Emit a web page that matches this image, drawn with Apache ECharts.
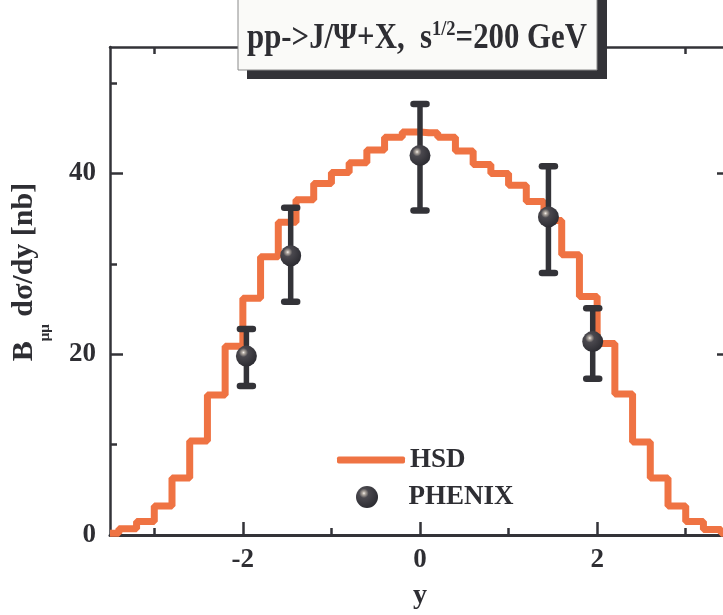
<!DOCTYPE html>
<html>
<head>
<meta charset="utf-8">
<script src="https://cdn.jsdelivr.net/npm/echarts@6/dist/echarts.min.js"></script>
<style>
html,body{margin:0;padding:0;background:#fff;}
#chart{width:723px;height:615px;}
</style>
</head>
<body>
<div id="chart"></div>
<script>
// HSD histogram: bin centres (y) and dσ/dy values
const binCenters = [-3.5,-3.3,-3.1,-2.9,-2.7,-2.5,-2.3,-2.1,-1.9,-1.7,-1.5,-1.3,-1.1,-0.9,-0.7,-0.5,-0.3,-0.1,
                    0.1,0.3,0.5,0.7,0.9,1.1,1.3,1.5,1.7,1.9,2.1,2.3,2.5,2.7,2.9,3.1,3.3,3.5];
const hsdValues  = [0.2,0.7,1.5,3.2,6.3,10.4,15.5,20.9,26.2,30.8,34.6,37.1,38.9,40.1,41.2,42.6,44.0,44.6,
                    44.5,44.0,42.5,41.0,40.0,38.7,36.9,34.8,31.0,26.4,21.2,15.6,10.3,6.3,3.2,1.5,0.6,0.2];
// PHENIX data
const phenixX    = [-1.96,-1.46,0.0,1.45,1.95];
const phenixY    = [19.8,30.9,42.0,35.2,21.4];
const phenixLow  = [16.5,25.8,35.9,29.0,17.3];
const phenixHigh = [22.8,36.2,47.7,40.8,25.1];
// ticks
const xMajor = [-2,0,2];
const xMinor = [-3,-1,1,3];
const yMajor = [0,20,40];
const yMinor = [10,30,50];

const FONT = 'Liberation Serif';
const DARK = '#333338';
const TXT = '#2e2e33';
const ORANGE = '#EF7343';

function xAx(position, ticks, len, withLine, withLabel) {
  return {
    type:'value', position: position, min:-3.5, max:3.5,
    axisLine:{show:withLine, onZero:false, lineStyle:{color:DARK, width: position==='bottom'?3:2.5}},
    axisTick:{show:true, inside:true, length:len, customValues:ticks, lineStyle:{color:DARK, width:2.5}},
    axisLabel:{show:withLabel, customValues:ticks, color:TXT, fontFamily:FONT, fontWeight:'bold', fontSize:27, margin:12},
    splitLine:{show:false}
  };
}
function yAx(position, ticks, len, withLine, withLabel) {
  return {
    type:'value', position: position, min:0, max:54,
    axisLine:{show:withLine, onZero:false, lineStyle:{color:DARK, width:2.5}},
    axisTick:{show:true, inside:true, length:len, customValues:ticks, lineStyle:{color:DARK, width:2.5}},
    axisLabel:{show:withLabel, customValues:ticks, color:TXT, fontFamily:FONT, fontWeight:'bold', fontSize:27, margin:14},
    splitLine:{show:false}
  };
}

const xAxes = [
  xAx('bottom', xMajor, 13, true, true),
  xAx('bottom', xMinor, 7, false, false),
  xAx('top', xMajor, 13, true, false),
  xAx('top', xMinor, 7, false, false)
];
xAxes[0].name = 'y';
xAxes[0].nameLocation = 'middle';
xAxes[0].nameGap = 47;
xAxes[0].nameTextStyle = {color:TXT, fontFamily:FONT, fontWeight:'bold', fontSize:28};

const yAxes = [
  yAx('left', yMajor, 13, true, true),
  yAx('left', yMinor, 7, false, false),
  yAx('right', yMajor, 13, true, false),
  yAx('right', yMinor, 7, false, false)
];
yAxes[0].name = '{t|B}{s|μμ}{t| dσ/dy [nb]}';
yAxes[0].nameLocation = 'middle';
yAxes[0].nameRotate = 90;
yAxes[0].nameGap = 57;
yAxes[0].nameTextStyle = {
  color:TXT, fontFamily:FONT, fontWeight:'bold', fontSize:30,
  padding:[0,0,0,38],
  rich:{
    t:{fontFamily:FONT, fontWeight:'bold', fontSize:30, color:TXT, lineHeight:31, verticalAlign:'top'},
    s:{fontFamily:FONT, fontWeight:'bold', fontSize:15, color:TXT, lineHeight:44, verticalAlign:'bottom'}
  }
};

const sphere = {
  type:'radial', x:0.36, y:0.33, r:0.72,
  colorStops:[
    {offset:0, color:'#f6f2ee'},
    {offset:0.1, color:'#b0a8a0'},
    {offset:0.3, color:'#4a484e'},
    {offset:1, color:'#2a2a30'}
  ]
};

const chart = echarts.init(document.getElementById('chart'), null, {renderer:'canvas'});
chart.setOption({
  animation:false,
  backgroundColor:'#ffffff',
  grid:{left:110, top:47, right:-7, bottom:80, containLabel:false, outerBoundsMode:'none'},
  xAxis: xAxes,
  yAxis: yAxes,
  legend:[
    {data:[{name:'HSD', icon:'roundRect'}], left:332, top:441, orient:'vertical', itemWidth:68, itemHeight:7,
     itemStyle:{color:ORANGE},
     textStyle:{color:TXT, fontFamily:FONT, fontWeight:'bold', fontSize:27, lineHeight:28}},
    {data:['PHENIX'], left:351, top:478, orient:'vertical', itemWidth:73, itemHeight:22,
     textStyle:{color:TXT, fontFamily:FONT, fontWeight:'bold', fontSize:27, lineHeight:28}}
  ],
  graphic:[
    {type:'rect', shape:{x:247, y:-5, width:360, height:84}, style:{fill:DARK}, z:100},
    {type:'rect', shape:{x:238, y:-5, width:359, height:75}, style:{fill:'#fafaf8', stroke:'#8a8a8a', lineWidth:1}, z:101},
    {type:'text', x:417, y:39, z:102, scaleX:0.88, scaleY:1,
     style:{
       text:'{a|pp->J/Ψ+X,  s}{p|1/2}{a|=200 GeV}',
       align:'center', verticalAlign:'middle',
       rich:{
         a:{fontFamily:FONT, fontWeight:'bold', fontSize:35, fill:TXT, lineHeight:40},
         p:{fontFamily:FONT, fontWeight:'bold', fontSize:21, fill:TXT, lineHeight:22, verticalAlign:'top'}
       }
     }}
  ],
  series:[
    {
      name:'HSD', type:'line', step:'middle', symbol:'none',
      xAxisIndex:0, yAxisIndex:0,
      data: binCenters.map((x,i)=>[x, hsdValues[i]]),
      lineStyle:{color:ORANGE, width:7}, itemStyle:{color:ORANGE},
      clip:true, z:2
    },
    {
      name:'PHENIX error', type:'custom', xAxisIndex:0, yAxisIndex:0,
      data: phenixX.map((x,i)=>[x, phenixLow[i], phenixHigh[i]]),
      encode:{x:0, y:[1,2]},
      renderItem:function(params, api){
        const x = api.value(0);
        const lo = api.coord([x, api.value(1)]);
        const hi = api.coord([x, api.value(2)]);
        const cw = 6.5;
        const st = {stroke:DARK, lineWidth:5.5};
        const cs = {stroke:DARK, lineWidth:6.5, lineCap:'round'};
        return {type:'group', children:[
          {type:'line', shape:{x1:lo[0], y1:lo[1], x2:hi[0], y2:hi[1]}, style:st},
          {type:'line', shape:{x1:hi[0]-cw, y1:hi[1], x2:hi[0]+cw, y2:hi[1]}, style:cs},
          {type:'line', shape:{x1:lo[0]-cw, y1:lo[1], x2:lo[0]+cw, y2:lo[1]}, style:cs}
        ]};
      },
      z:3
    },
    {
      name:'PHENIX', type:'scatter', xAxisIndex:0, yAxisIndex:0,
      symbol:'circle', symbolSize:21,
      data: phenixX.map((x,i)=>[x, phenixY[i]]),
      itemStyle:{color:sphere, opacity:1},
      z:4
    }
  ]
});
</script>
</body>
</html>
